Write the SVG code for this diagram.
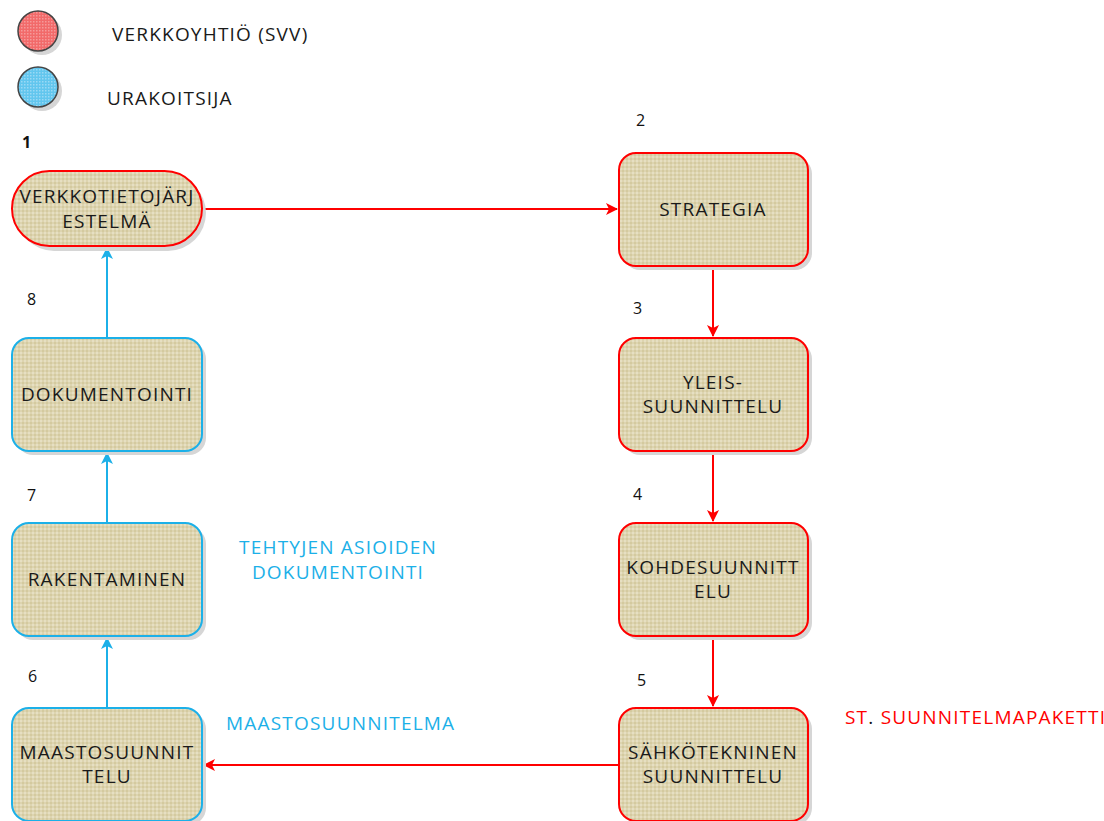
<svg xmlns="http://www.w3.org/2000/svg" width="1104" height="821" viewBox="0 0 1104 821">
<style>
text{font-family:"Open Sans","Noto Sans","DejaVu Sans",sans-serif;font-size:19px;letter-spacing:1.2px;fill:#1a1a1a}
.lbl{text-anchor:middle}
.num{font-size:16px;letter-spacing:0;fill:#111}
.nr{fill:url(#tex);stroke:#ff0000;stroke-width:2}
.nb{fill:url(#tex);stroke:#1cb0e8;stroke-width:2}
.sh{fill:#d6d6d6}
.cr{stroke:#ff0000;stroke-width:2;fill:none}
.cb{stroke:#1cb0e8;stroke-width:2;fill:none}
.red{fill:#ff0000}
.blue{fill:#1cb0e8}
</style>
<defs>
<pattern id="tex" width="4" height="4" patternUnits="userSpaceOnUse">
<rect width="4" height="4" fill="#ddd4b0"/>
<rect x="0" y="0" width="2" height="2" fill="#e6dfc2"/>
<rect x="2" y="2" width="2" height="2" fill="#d4ca9f"/>
</pattern>
<pattern id="texr" width="3" height="3" patternUnits="userSpaceOnUse">
<rect width="3" height="3" fill="#f26a6a"/>
<rect width="1.5" height="1.5" fill="#f59a9a"/>
</pattern>
<pattern id="texb" width="3" height="3" patternUnits="userSpaceOnUse">
<rect width="3" height="3" fill="#62c6ee"/>
<rect width="1.5" height="1.5" fill="#9ad9f4"/>
</pattern>
<marker id="ar" viewBox="0 0 12 12" refX="11" refY="6" markerWidth="12" markerHeight="12" markerUnits="userSpaceOnUse" orient="auto">
<path d="M0,0 L12,6 L0,12 L3,6 Z" fill="#ff0000"/>
</marker>
<marker id="ab" viewBox="0 0 12 12" refX="11" refY="6" markerWidth="12" markerHeight="12" markerUnits="userSpaceOnUse" orient="auto">
<path d="M0,0 L12,6 L0,12 L3,6 Z" fill="#1cb0e8"/>
</marker>
</defs>
<rect width="1104" height="821" fill="#ffffff"/>

<g id="legend">
<circle cx="42" cy="35" r="20" fill="#d6d6d6"/>
<circle cx="38" cy="31" r="20" fill="url(#texr)" stroke="#444" stroke-width="1.5"/>
<circle cx="42" cy="91" r="20" fill="#d6d6d6"/>
<circle cx="38" cy="87" r="20" fill="url(#texb)" stroke="#444" stroke-width="1.5"/>
<text x="112" y="41">VERKKOYHTIÖ (SVV)</text>
<text x="107" y="105">URAKOITSIJA</text>
</g>

<g id="connectors">
<line class="cr" x1="202" y1="209" x2="617" y2="209" marker-end="url(#ar)"/>
<line class="cr" x1="713" y1="266" x2="713" y2="336" marker-end="url(#ar)"/>
<line class="cr" x1="713" y1="451" x2="713" y2="521" marker-end="url(#ar)"/>
<line class="cr" x1="713" y1="636" x2="713" y2="706" marker-end="url(#ar)"/>
<line class="cr" x1="619" y1="765" x2="204" y2="765" marker-end="url(#ar)"/>
<line class="cb" x1="107" y1="708" x2="107" y2="638" marker-end="url(#ab)"/>
<line class="cb" x1="107" y1="523" x2="107" y2="453" marker-end="url(#ab)"/>
<line class="cb" x1="107" y1="338" x2="107" y2="248" marker-end="url(#ab)"/>
</g>

<g id="n1">
<rect class="sh" x="16" y="175" width="190" height="76" rx="38"/>
<rect class="nr" x="12" y="171" width="190" height="75" rx="37.5"/>
<text class="lbl" x="107" y="203">VERKKOTIETOJÄRJ</text>
<text class="lbl" x="107" y="228">ESTELMÄ</text>
<text class="num" x="22" y="148" font-weight="bold">1</text>
</g>

<g id="n2">
<rect class="sh" x="623" y="157" width="189" height="113" rx="17"/>
<rect class="nr" x="619" y="153" width="189" height="113" rx="17"/>
<text class="lbl" x="713" y="216">STRATEGIA</text>
<text class="num" x="636" y="126">2</text>
</g>

<g id="n3">
<rect class="sh" x="623" y="342" width="189" height="113" rx="17"/>
<rect class="nr" x="619" y="338" width="189" height="113" rx="17"/>
<text class="lbl" x="713" y="389">YLEIS-</text>
<text class="lbl" x="713" y="413">SUUNNITTELU</text>
<text class="num" x="633" y="314">3</text>
</g>

<g id="n4">
<rect class="sh" x="623" y="527" width="189" height="113" rx="17"/>
<rect class="nr" x="619" y="523" width="189" height="113" rx="17"/>
<text class="lbl" x="713" y="574">KOHDESUUNNITT</text>
<text class="lbl" x="713" y="598">ELU</text>
<text class="num" x="633" y="500">4</text>
</g>

<g id="n5">
<rect class="sh" x="623" y="712" width="189" height="113" rx="17"/>
<rect class="nr" x="619" y="708" width="189" height="113" rx="17"/>
<text class="lbl" x="713" y="759">SÄHKÖTEKNINEN</text>
<text class="lbl" x="713" y="783">SUUNNITTELU</text>
<text class="num" x="637" y="686">5</text>
</g>

<g id="n6">
<rect class="sh" x="16" y="712" width="190" height="113" rx="17"/>
<rect class="nb" x="12" y="708" width="190" height="113" rx="17"/>
<text class="lbl" x="107" y="759">MAASTOSUUNNIT</text>
<text class="lbl" x="107" y="783">TELU</text>
<text class="num" x="28" y="682">6</text>
</g>

<g id="n7">
<rect class="sh" x="16" y="527" width="190" height="113" rx="17"/>
<rect class="nb" x="12" y="523" width="190" height="113" rx="17"/>
<text class="lbl" x="107" y="586">RAKENTAMINEN</text>
<text class="num" x="27" y="501">7</text>
</g>

<g id="n8">
<rect class="sh" x="16" y="342" width="190" height="113" rx="17"/>
<rect class="nb" x="12" y="338" width="190" height="113" rx="17"/>
<text class="lbl" x="107" y="401">DOKUMENTOINTI</text>
<text class="num" x="27" y="305">8</text>
</g>

<g id="labels">
<text class="lbl blue" x="338" y="554">TEHTYJEN ASIOIDEN</text>
<text class="lbl blue" x="338" y="579">DOKUMENTOINTI</text>
<text class="blue" x="226" y="730">MAASTOSUUNNITELMA</text>
<text class="red" x="845" y="724">ST<tspan fill="#111">.</tspan> SUUNNITELMAPAKETTI</text>
</g>
</svg>
